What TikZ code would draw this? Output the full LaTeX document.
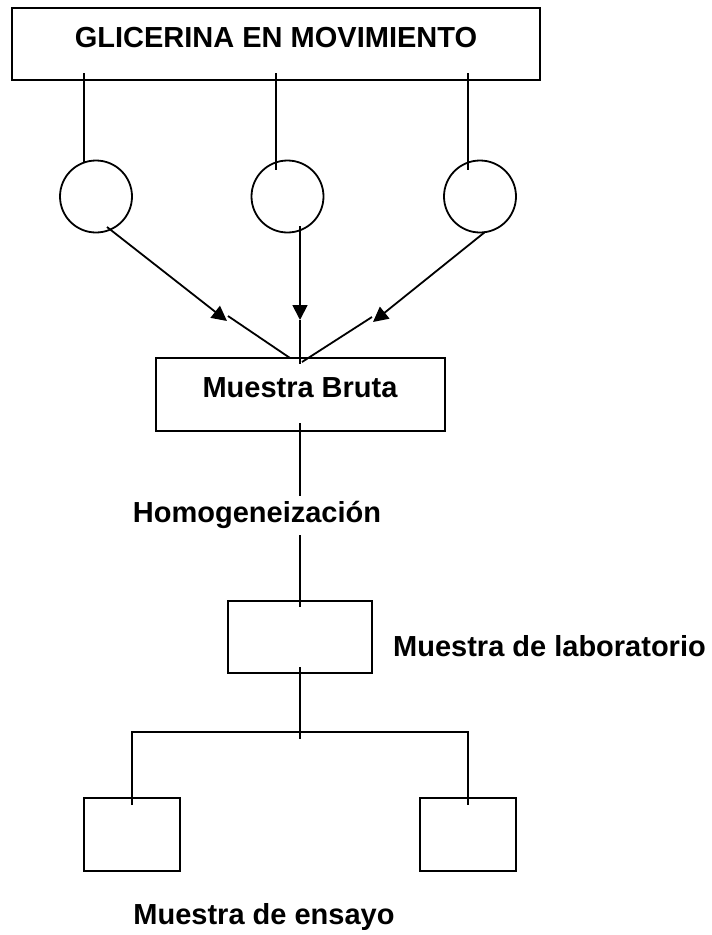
\documentclass[tikz,border=0pt]{standalone}
\usepackage{fontspec}
\setmainfont{Liberation Sans}
\usetikzlibrary{arrows.meta}
\begin{document}
\begin{tikzpicture}[x=1pt,y=-1pt,
  box/.style={draw, rectangle, inner sep=0pt, line width=1.9pt},
  circ/.style={draw, circle, minimum size=72pt, inner sep=0pt, line width=1.8pt},
  lbl/.style={inner sep=0pt, font=\fontsize{29}{34}\selectfont\bfseries},
  conn/.style={draw, line width=1.8pt},
  arr/.style={conn, -{Triangle[length=15pt,width=15pt]}}]
\useasboundingbox (0,0) rectangle (712,935);
% boxes
\node[box, minimum width=528pt, minimum height=72pt] (top) at (276,44) {};
\node[lbl, anchor=base] (ttext) at (276,47) {GLICERINA EN MOVIMIENTO};
\node[circ] (c1) at (96,196.5) {};
\node[circ] (c2) at (287.5,196.5) {};
\node[circ] (c3) at (480,196.5) {};
\node[box, minimum width=289pt, minimum height=73pt] (bruta) at (300.5,394.5) {};
\node[lbl, anchor=base] (btext) at (300,397) {Muestra Bruta};
\node[lbl, anchor=base] (homog) at (257,522) {Homogeneización};
\node[box, minimum width=144pt, minimum height=72pt] (lab) at (300,637) {};
\node[lbl, anchor=base west] (labtext) at (393,656) {Muestra de laboratorio};
\node[box, minimum width=96pt, minimum height=73pt] (e1) at (132,834.5) {};
\node[box, minimum width=96pt, minimum height=73pt] (e2) at (468,834.5) {};
\node[lbl, anchor=base] (etext) at (264,924) {Muestra de ensayo};
% coordinates
\coordinate (t1) at (84,73);
\coordinate (t2) at (276,73);
\coordinate (t3) at (468,73);
\coordinate (c1b) at (84,162.5);
\coordinate (c2b) at (276,170);
\coordinate (c3b) at (468,170);
\coordinate (a1s) at (107,227);
\coordinate (a1e) at (227,321);
\coordinate (a2s) at (300,226);
\coordinate (a2e) at (300,320);
\coordinate (a3s) at (485,232);
\coordinate (a3e) at (373,322);
\coordinate (l1s) at (228,316);
\coordinate (l1e) at (290,358);
\coordinate (l2e) at (300,364);
\coordinate (l3s) at (372,317);
\coordinate (l3e) at (302,362);
\coordinate (b1) at (300,423);
\coordinate (b2) at (300,496);
\coordinate (b3) at (300,535);
\coordinate (b4) at (300,607);
\coordinate (b5) at (300,667);
\coordinate (b6) at (300,739);
\coordinate (hL) at (132,732);
\coordinate (hR) at (468,732);
\coordinate (eL) at (132,805);
\coordinate (eR) at (468,805);
% connectors
\draw[conn] (t1) -- (c1b);
\draw[conn] (t2) -- (c2b);
\draw[conn] (t3) -- (c3b);
\draw[arr] (a1s) -- (a1e);
\draw[arr] (a2s) -- (a2e);
\draw[arr] (a3s) -- (a3e);
\draw[conn] (l1s) -- (l1e);
\draw[conn] (a2e) -- (l2e);
\draw[conn] (l3s) -- (l3e);
\draw[conn] (b1) -- (b2);
\draw[conn] (b3) -- (b4);
\draw[conn] (b5) -- (b6);
\draw[conn] (eL) -- (hL) -- (hR) -- (eR);
\end{tikzpicture}
\end{document}
